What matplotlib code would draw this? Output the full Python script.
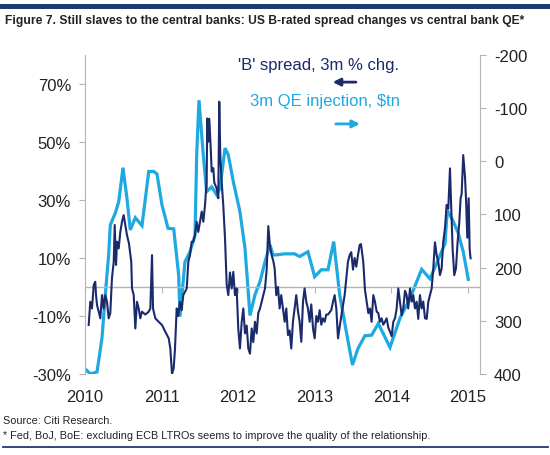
# -*- coding: utf-8 -*-
import matplotlib
matplotlib.use('Agg')
import matplotlib.pyplot as plt
from matplotlib.patches import Rectangle
from matplotlib.lines import Line2D

# -- data ------------------------------------------------------------
# 'B' spread, 3m % chg (left axis, %)
spread_dates = [
    2010.048, 2010.069, 2010.091, 2010.114, 2010.134, 2010.144, 2010.157, 2010.179,
    2010.200, 2010.222, 2010.244, 2010.265, 2010.287, 2010.309, 2010.330, 2010.352,
    2010.375, 2010.388, 2010.405, 2010.418, 2010.440, 2010.461, 2010.483, 2010.505,
    2010.526, 2010.548, 2010.574, 2010.604, 2010.614, 2010.636, 2010.657, 2010.679,
    2010.701, 2010.722, 2010.744, 2010.787, 2010.832, 2010.853, 2010.875, 2010.888,
    2010.918, 2010.962, 2011.005, 2011.048, 2011.093, 2011.114, 2011.136, 2011.158,
    2011.175, 2011.197, 2011.218, 2011.240, 2011.262, 2011.283, 2011.328, 2011.349,
    2011.371, 2011.393, 2011.414, 2011.436, 2011.458, 2011.479, 2011.501, 2011.524,
    2011.545, 2011.567, 2011.588, 2011.596, 2011.610, 2011.623, 2011.641, 2011.654,
    2011.675, 2011.688, 2011.719, 2011.740, 2011.753, 2011.767, 2011.784, 2011.805,
    2011.828, 2011.850, 2011.871, 2011.893, 2011.915, 2011.936, 2011.958, 2011.980,
    2012.001, 2012.023, 2012.046, 2012.067, 2012.089, 2012.111, 2012.132, 2012.154,
    2012.176, 2012.197, 2012.219, 2012.241, 2012.262, 2012.285, 2012.307, 2012.328,
    2012.350, 2012.372, 2012.393, 2012.415, 2012.437, 2012.458, 2012.476, 2012.497,
    2012.520, 2012.541, 2012.562, 2012.585, 2012.607, 2012.628, 2012.650, 2012.672,
    2012.693, 2012.715, 2012.737, 2012.758, 2012.781, 2012.802, 2012.824, 2012.846,
    2012.867, 2012.889, 2012.911, 2012.933, 2012.954, 2012.977, 2012.998, 2013.020,
    2013.042, 2013.064, 2013.085, 2013.107, 2013.129, 2013.150, 2013.172, 2013.215,
    2013.238, 2013.259, 2013.281, 2013.303, 2013.346, 2013.390, 2013.433, 2013.455,
    2013.476, 2013.499, 2013.520, 2013.542, 2013.564, 2013.586, 2013.603, 2013.633,
    2013.655, 2013.677, 2013.699, 2013.721, 2013.742, 2013.764, 2013.786, 2013.808,
    2013.829, 2013.851, 2013.873, 2013.894, 2013.916, 2013.938, 2013.960, 2013.982,
    2014.004, 2014.025, 2014.047, 2014.069, 2014.090, 2014.112, 2014.134, 2014.155,
    2014.178, 2014.199, 2014.220, 2014.243, 2014.265, 2014.286, 2014.308, 2014.330,
    2014.351, 2014.373, 2014.395, 2014.416, 2014.439, 2014.461, 2014.482, 2014.504,
    2014.526, 2014.547, 2014.569, 2014.591, 2014.612, 2014.634, 2014.656, 2014.677,
    2014.700, 2014.721, 2014.743, 2014.765, 2014.778, 2014.800, 2014.821, 2014.843,
    2014.865, 2014.886, 2014.904, 2014.917, 2014.938, 2014.961, 2014.974, 2014.991,
    2015.009, 2015.022, 2015.034,
]
spread_chg = [
    -13.1, -5.1, -7.4, 0.7, 1.8, -2.8, -6.2, -8.5,
    -10.8, -2.8, -7.4, -2.8, -5.1, -10.8, -9.0, 3.0,
    8.7, 21.4, 7.6, 15.6, 13.3, 19.0, 22.5, 24.8,
    21.4, 17.9, 15.0, 8.7, -0.5, -2.8, -14.3, -5.1,
    -7.4, -10.8, -8.5, -9.5, -8.5, -7.4, 11.0, -7.4,
    -10.8, -12.0, -13.1, -15.4, -17.7, -21.2, -30.0, -28.0,
    -21.2, -7.4, -10.0, -5.1, -8.0, -2.8, -0.5, 8.7,
    11.0, 15.6, 15.6, 17.9, 22.5, 19.0, 22.5, 26.0,
    22.5, 28.3, 36.3, 58.1, 50.1, 58.0, 48.0, 39.8,
    41.0, 36.0, 34.0, 30.6, 63.9, 45.0, 36.3, 28.3,
    16.8, 0.7, -2.8, 5.0, -0.5, 5.2, -2.8, -0.5,
    -14.3, -21.2, -12.0, -7.4, -16.0, -13.3, -21.2, -23.0,
    -14.3, -19.0, -12.0, -16.0, -9.0, -7.4, -5.0, -2.8,
    -0.5, 6.0, 21.0, 14.0, 11.0, 9.0, 6.4, -2.8,
    0.0, -7.4, -2.8, -7.4, -12.0, -7.4, -16.6, -15.0,
    -21.2, -12.0, -7.4, -2.8, -8.5, -12.0, -18.9, -5.1,
    -0.5, -5.1, -7.4, -12.0, -6.0, -14.3, -17.7, -10.0,
    -12.0, -8.0, -13.0, -10.8, -12.0, -9.5, -9.5, -8.0,
    -5.1, -2.8, -7.4, -17.7, -10.0, -2.8, 8.7, 11.0,
    12.0, 6.0, 10.0, 7.0, 11.0, 14.5, 14.8, 8.7,
    -1.0, -5.1, -9.0, -7.4, -12.0, -2.8, -5.1, -8.5,
    -9.0, -12.0, -10.8, -13.0, -12.0, -10.8, -14.0, -15.4,
    -17.0, -12.0, -10.8, -7.4, -0.5, -5.1, -9.7, -7.4,
    -1.3, -2.8, -7.4, -0.5, -5.1, -2.8, -7.4, -5.1,
    -11.0, -2.8, -7.4, -5.0, -10.8, -11.0, -5.1, -2.8,
    -0.5, 6.4, 15.4, 11.0, 8.7, 4.1, 6.4, 15.6,
    20.2, 28.3, 27.0, 40.9, 30.0, 13.0, 4.1, 6.4,
    15.6, 22.0, 30.6, 32.0, 45.5, 38.0, 30.6, 17.0,
    30.6, 13.0, 9.9,
]

# 3m QE injection, $tn (right axis, inverted)
qe_dates = [
    2010.000, 2010.069, 2010.157, 2010.222, 2010.265, 2010.309, 2010.330, 2010.396,
    2010.440, 2010.496, 2010.548, 2010.591, 2010.657, 2010.744, 2010.832, 2010.897,
    2010.940, 2011.005, 2011.084, 2011.158, 2011.223, 2011.240, 2011.305, 2011.371,
    2011.436, 2011.458, 2011.488, 2011.544, 2011.588, 2011.654, 2011.719, 2011.762,
    2011.828, 2011.871, 2011.936, 2012.023, 2012.089, 2012.154, 2012.219, 2012.285,
    2012.350, 2012.415, 2012.454, 2012.497, 2012.607, 2012.737, 2012.802, 2012.911,
    2012.998, 2013.085, 2013.172, 2013.247, 2013.325, 2013.411, 2013.492, 2013.564,
    2013.655, 2013.742, 2013.829, 2013.982, 2014.112, 2014.243, 2014.395, 2014.504,
    2014.700, 2014.730, 2014.808, 2014.873, 2014.938, 2015.004,
]
qe_injection = [
    390, 400, 396, 332, 251, 176, 120, 97,
    76, 12, 70, 129, 106, 121, 19, 19,
    24, 82, 126, 127, 214, 292, 189, 170,
    139, -12, -115, -12, 57, 48, 63, 51,
    -25, -12, 38, 95, 164, 290, 251, 226,
    189, 157, 176, 176, 174, 174, 179, 170,
    217, 204, 204, 151, 251, 320, 383, 352,
    328, 327, 305, 350, 295, 258, 203, 221,
    155, 92, 113, 135, 170, 222,
]

years = [2010, 2011, 2012, 2013, 2014, 2015]
left_ticks = [-30, -10, 10, 30, 50, 70]
right_ticks = [-200, -100, 0, 100, 200, 300, 400]

navy = '#1b2a6b'
light = '#1fa9e1'
grey = '#b4b4b4'
txt = '#222222'

plt.rcParams['font.family'] = ['Liberation Sans', 'DejaVu Sans']

W, H = 550, 456
fig = plt.figure(figsize=(W / 100, H / 100), dpi=100)
ax = fig.add_axes([85 / W, 1 - 375 / H, 395 / W, 319 / H])
ax2 = ax.twinx()

# light blue QE line on the right (inverted) axis, drawn below the navy one
ax2.plot(qe_dates, qe_injection, color=light, lw=2.3, solid_joinstyle='miter')
ax2.set_ylim(400, -200)
ax2.set_yticks(right_ticks)
ax2.set_yticklabels([str(t) for t in right_ticks])

ax.plot(spread_dates, spread_chg, color=navy, lw=1.5)
ax.set_ylim(-30, 80)
ax.set_xlim(2010, 2015.157)
ax.set_yticks(left_ticks)
ax.set_yticklabels(['%d%%' % t for t in left_ticks])
ax.set_zorder(ax2.get_zorder() + 1)
ax.patch.set_visible(False)

ax.axhline(0, color=grey, lw=1.0, zorder=0)
ax.set_xticks(years)
ax.set_xticklabels([str(y) for y in years])
ax.tick_params(axis='x', length=0, labelsize=12, pad=11, labelcolor=txt)
ax.tick_params(axis='y', length=4, color=grey, labelsize=12, labelcolor=txt, pad=6)
ax2.tick_params(axis='y', length=4, color=grey, labelsize=12, labelcolor=txt, pad=6)

# small year ticks sitting on the zero line
zero_axis = ax.secondary_xaxis(0, transform=ax.transData)
zero_axis.set_xticks(years)
zero_axis.set_xticklabels([])
zero_axis.spines['bottom'].set_visible(False)
zero_axis.tick_params(axis='x', direction='out', length=4, color=grey)

for s in ['top', 'bottom', 'right']:
    ax.spines[s].set_visible(False)
for s in ['top', 'bottom', 'left']:
    ax2.spines[s].set_visible(False)
ax.spines['left'].set_color(grey)
ax2.spines['right'].set_color(grey)

# legend texts and arrows
ax.text(0.591, 0.969, "'B' spread, 3m % chg.", transform=ax.transAxes,
        color=navy, fontsize=12, ha='center', va='center')
ax.annotate('', xy=(0.620, 0.915), xytext=(0.693, 0.915), xycoords='axes fraction',
            arrowprops=dict(arrowstyle='-|>', color=navy, lw=2, mutation_scale=11))
ax.text(0.608, 0.856, '3m QE injection, $tn', transform=ax.transAxes,
        color=light, fontsize=12, ha='center', va='center')
ax.annotate('', xy=(0.703, 0.784), xytext=(0.628, 0.784), xycoords='axes fraction',
            arrowprops=dict(arrowstyle='-|>', color=light, lw=2, mutation_scale=11))

# header / footer decoration
fig.add_artist(Rectangle((0, 1 - 10 / H), 1, 5 / H, transform=fig.transFigure,
                         color='#1f3a6e', lw=0))
fig.add_artist(Line2D([3 / W, 548 / W], [1 - 447.5 / H] * 2, transform=fig.transFigure,
                      color='#1f3a6e', lw=1.3))
fig.text(5 / W, 1 - 21 / H,
         'Figure 7. Still slaves to the central banks: US B-rated spread changes vs central bank QE*',
         fontsize=8.7, fontweight='bold', color=txt, va='center')
fig.text(3 / W, 1 - 421 / H, 'Source: Citi Research.', fontsize=7.8,
         color=txt, va='center')
fig.text(3 / W, 1 - 436 / H,
         '* Fed, BoJ, BoE: excluding ECB LTROs seems to improve the quality of the relationship.',
         fontsize=7.8, color=txt, va='center')

fig.savefig('out.png', dpi=100)
